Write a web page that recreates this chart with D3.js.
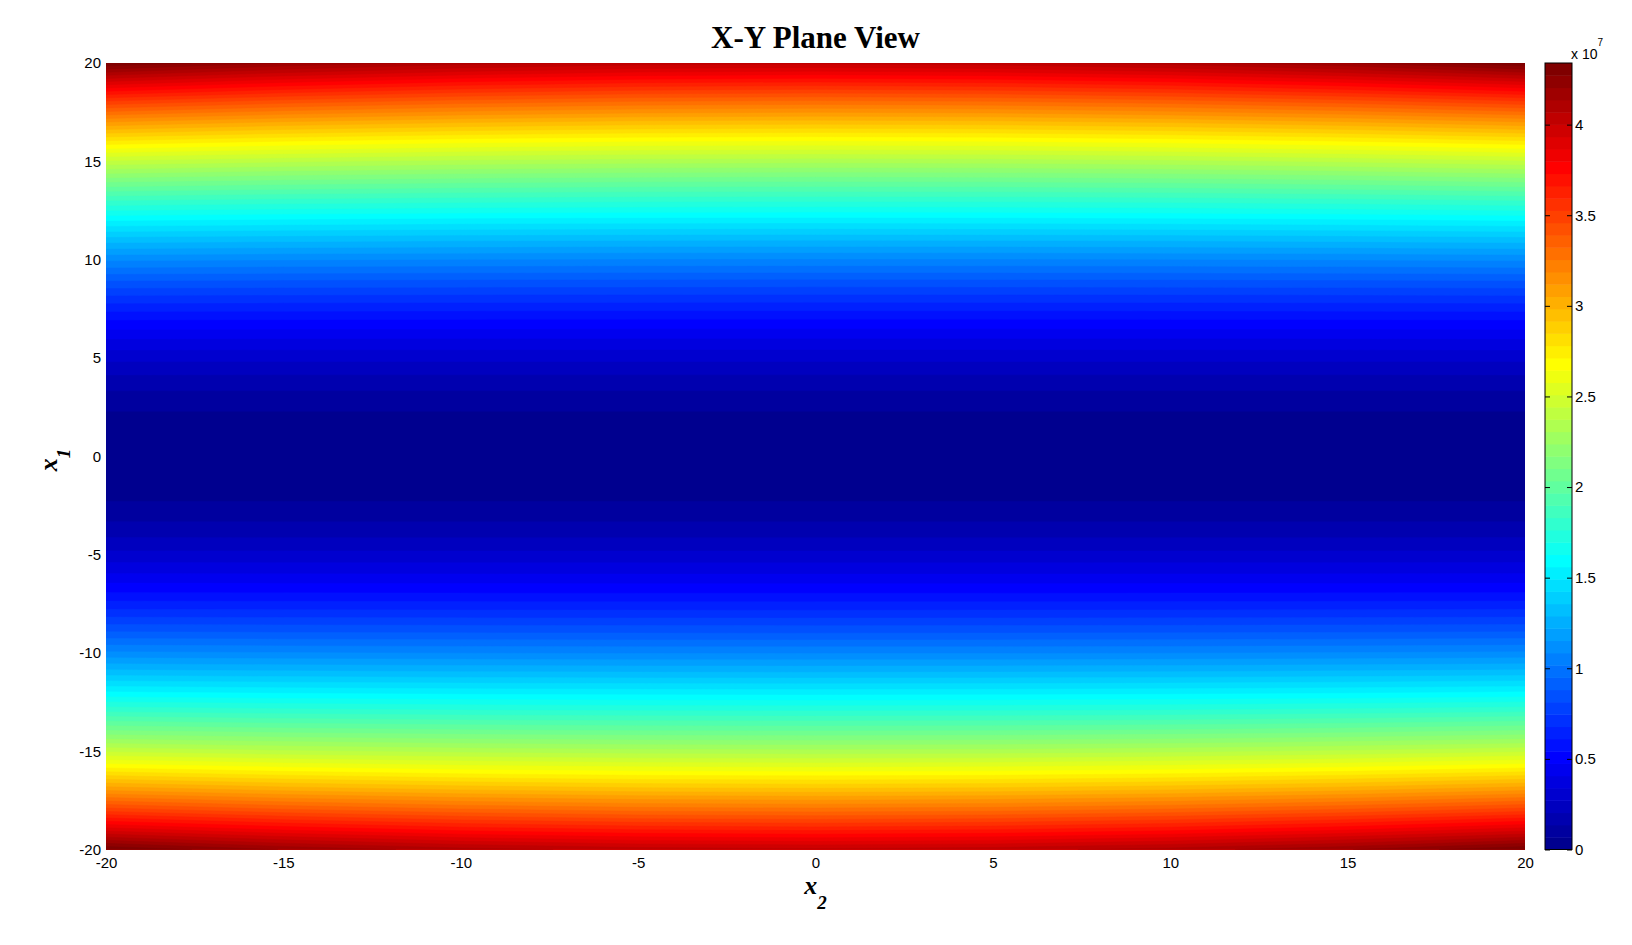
<!DOCTYPE html>
<html>
<head>
<meta charset="utf-8">
<script src="https://cdn.jsdelivr.net/npm/d3@7"></script>
<style>
  body { margin: 0; background: #fff; }
  svg { display: block; }
  .tick text { font-family: "Liberation Sans", Arial, sans-serif; font-size: 15px; fill: #000; }
</style>
</head>
<body>
<svg id="chart" width="1632" height="945"></svg>
<script>
// grid positions
const x1Values = d3.range(-20, 21, 1);
const x2Values = [-20, -15, -10, -5, 0, 5, 10, 15, 20];

// surface values (x 10^7) per x1 row, one array per x2 column (picture is symmetric in x2)
const zAtX2_0 = [4.020,3.647,3.291,2.952,2.631,2.327,2.041,1.773,1.523,1.291,1.077,0.882,0.705,0.547,0.408,0.289,0.189,0.109,0.051,0.014,0.000,
                 0.014,0.051,0.109,0.189,0.289,0.408,0.547,0.705,0.882,1.077,1.291,1.523,1.773,2.041,2.327,2.631,2.952,3.291,3.647,4.020];
const zAtX2_5 = [4.040,3.663,3.304,2.962,2.639,2.333,2.046,1.777,1.526,1.293,1.078,0.883,0.706,0.547,0.408,0.289,0.189,0.109,0.051,0.014,0.000,
                 0.014,0.051,0.109,0.189,0.289,0.408,0.547,0.706,0.883,1.078,1.293,1.526,1.777,2.046,2.333,2.639,2.962,3.304,3.663,4.040];
const zAtX2_10 = [4.100,3.712,3.344,2.994,2.664,2.352,2.060,1.787,1.533,1.298,1.082,0.885,0.707,0.548,0.409,0.289,0.189,0.109,0.051,0.014,0.000,
                  0.014,0.051,0.109,0.189,0.289,0.409,0.548,0.707,0.885,1.082,1.298,1.533,1.787,2.060,2.352,2.664,2.994,3.344,3.712,4.100];
const zAtX2_15 = [4.200,3.794,3.409,3.046,2.705,2.384,2.084,1.805,1.546,1.307,1.088,0.889,0.710,0.550,0.409,0.290,0.189,0.109,0.051,0.014,0.000,
                  0.014,0.051,0.109,0.189,0.290,0.409,0.550,0.710,0.889,1.088,1.307,1.546,1.805,2.084,2.384,2.705,3.046,3.409,3.794,4.200];
const zAtX2_20 = [4.340,3.908,3.501,3.119,2.762,2.428,2.118,1.830,1.564,1.320,1.097,0.895,0.713,0.552,0.411,0.290,0.190,0.109,0.051,0.014,0.000,
                  0.014,0.051,0.109,0.190,0.290,0.411,0.552,0.713,0.895,1.097,1.320,1.564,1.830,2.118,2.428,2.762,3.119,3.501,3.908,4.340];

const xTicks = [-20, -15, -10, -5, 0, 5, 10, 15, 20];
const yTicks = [-20, -15, -10, -5, 0, 5, 10, 15, 20];
const colorTicks = [0, 0.5, 1, 1.5, 2, 2.5, 3, 3.5, 4];

const columns = [zAtX2_20, zAtX2_15, zAtX2_10, zAtX2_5, zAtX2_0, zAtX2_5, zAtX2_10, zAtX2_15, zAtX2_20];

const svg = d3.select("#chart");
const plot = {left: 106, right: 1525, top: 63, bottom: 849.5};
const cbar = {left: 1545, right: 1572};

// matlab jet(64)
function jet(n) {
  const m = Math.ceil(n / 4);
  const u = d3.range(1, m + 1).map(i => i / m)
    .concat(d3.range(m - 1).map(() => 1))
    .concat(d3.range(m, 0, -1).map(i => i / m));
  const g0 = Math.ceil(m / 2) - (n % 4 === 1 ? 1 : 0);
  const R = new Array(n).fill(0), G = new Array(n).fill(0), B = new Array(n).fill(0);
  u.forEach((v, k) => {
    const g = g0 + k + 1, r = g + m, b = g - m;
    if (g >= 1 && g <= n) G[g - 1] = v;
    if (r >= 1 && r <= n) R[r - 1] = v;
    if (b >= 1 && b <= n) B[b - 1] = v;
  });
  return d3.range(n).map(i => d3.rgb(R[i] * 255, G[i] * 255, B[i] * 255).formatHex());
}
const colors = jet(64);

// grid, row-major (rows = x1, cols = x2)
const nx = x2Values.length, ny = x1Values.length;
const grid = [];
for (let j = 0; j < ny; j++) {
  for (let i = 0; i < nx; i++) grid.push(columns[i][j]);
}
const zMin = d3.min(grid), zMax = d3.max(grid);

const x = d3.scaleLinear().domain([-20, 20]).range([plot.left, plot.right]);
const y = d3.scaleLinear().domain([-20, 20]).range([plot.bottom, plot.top]);
const color = d3.scaleQuantize().domain([zMin, zMax]).range(colors);
const levels = [zMin].concat(color.thresholds());

// grid coords -> pixels (d3.contours puts sample i at i + 0.5)
const gx = d3.scaleLinear().domain([0.5, nx - 0.5]).range([x(x2Values[0]), x(x2Values[nx - 1])]);
const gy = d3.scaleLinear().domain([0.5, ny - 0.5]).range([y(x1Values[0]), y(x1Values[ny - 1])]);
const path = d3.geoPath(d3.geoTransform({
  point(px, py) { this.stream.point(gx(px), gy(py)); }
}));

svg.append("clipPath").attr("id", "clip")
  .append("rect")
    .attr("x", plot.left).attr("y", plot.top)
    .attr("width", plot.right - plot.left).attr("height", plot.bottom - plot.top);

const bands = d3.contours().size([nx, ny]).thresholds(levels)(grid);
svg.append("g")
    .attr("clip-path", "url(#clip)")
  .selectAll("path")
  .data(bands)
  .join("path")
    .attr("d", path)
    .attr("fill", (d, i) => colors[i])
    .attr("stroke", (d, i) => colors[i])
    .attr("stroke-width", 0.5);

// axes (ticks hidden behind surface, only labels show)
svg.append("g")
    .attr("transform", "translate(0," + plot.bottom + ")")
    .call(d3.axisBottom(x).tickValues(xTicks).tickSize(0).tickPadding(8).tickFormat(d => String(d)))
    .call(g => g.select(".domain").remove());

svg.append("g")
    .attr("transform", "translate(" + plot.left + ",0)")
    .call(d3.axisLeft(y).tickValues(yTicks).tickSize(0).tickPadding(5).tickFormat(d => String(d)))
    .call(g => g.select(".domain").remove());

// title
svg.append("text")
    .attr("x", (plot.left + plot.right) / 2)
    .attr("y", 48)
    .attr("text-anchor", "middle")
    .style("font-family", "'Liberation Serif', 'Times New Roman', serif")
    .style("font-weight", "bold")
    .style("font-size", "31px")
    .text("X-Y Plane View");

// axis labels
const xl = svg.append("text")
    .attr("x", (plot.left + plot.right) / 2)
    .attr("y", 894)
    .attr("text-anchor", "middle")
    .style("font-family", "'Liberation Serif', 'Times New Roman', serif")
    .style("font-style", "italic")
    .style("font-weight", "bold")
    .style("font-size", "26px");
xl.append("tspan").text("x");
xl.append("tspan").attr("dy", 15).style("font-size", "19px").text("2");

const yl = svg.append("text")
    .attr("transform", "translate(57," + 460 + ") rotate(-90)")
    .attr("text-anchor", "middle")
    .style("font-family", "'Liberation Serif', 'Times New Roman', serif")
    .style("font-style", "italic")
    .style("font-weight", "bold")
    .style("font-size", "26px");
yl.append("tspan").text("x");
yl.append("tspan").attr("dy", 13).style("font-size", "19px").text("1");

// colorbar
const cy = d3.scaleLinear().domain([zMin, zMax]).range([plot.bottom, plot.top]);
svg.append("g")
  .selectAll("rect")
  .data(colors)
  .join("rect")
    .attr("x", cbar.left)
    .attr("width", cbar.right - cbar.left)
    .attr("y", (d, i) => cy(levels[i + 1] !== undefined ? levels[i + 1] : zMax))
    .attr("height", (d, i) => cy(levels[i]) - cy(levels[i + 1] !== undefined ? levels[i + 1] : zMax) + 0.5)
    .attr("fill", d => d);

svg.append("rect")
    .attr("x", cbar.left).attr("y", plot.top)
    .attr("width", cbar.right - cbar.left).attr("height", plot.bottom - plot.top)
    .attr("fill", "none").attr("stroke", "#000").attr("stroke-width", 1);

svg.append("g")
    .attr("transform", "translate(" + cbar.right + ",0)")
    .call(d3.axisRight(cy).tickValues(colorTicks).tickSize(-5).tickPadding(3).tickFormat(d => String(d)))
    .call(g => g.select(".domain").remove())
    .call(g => g.selectAll(".tick line").attr("stroke", "#000"));

svg.append("g")
    .attr("transform", "translate(" + cbar.left + ",0)")
    .call(d3.axisLeft(cy).tickValues(colorTicks).tickSize(-5).tickFormat(""))
    .call(g => g.select(".domain").remove())
    .call(g => g.selectAll(".tick line").attr("stroke", "#000"));

const exp = svg.append("text")
    .attr("x", 1571)
    .attr("y", 59)
    .style("font-family", "'Liberation Sans', Arial, sans-serif")
    .style("font-size", "14px");
exp.append("tspan").text("x 10");
exp.append("tspan").attr("dy", -13).style("font-size", "10px").text("7");
</script>
</body>
</html>
